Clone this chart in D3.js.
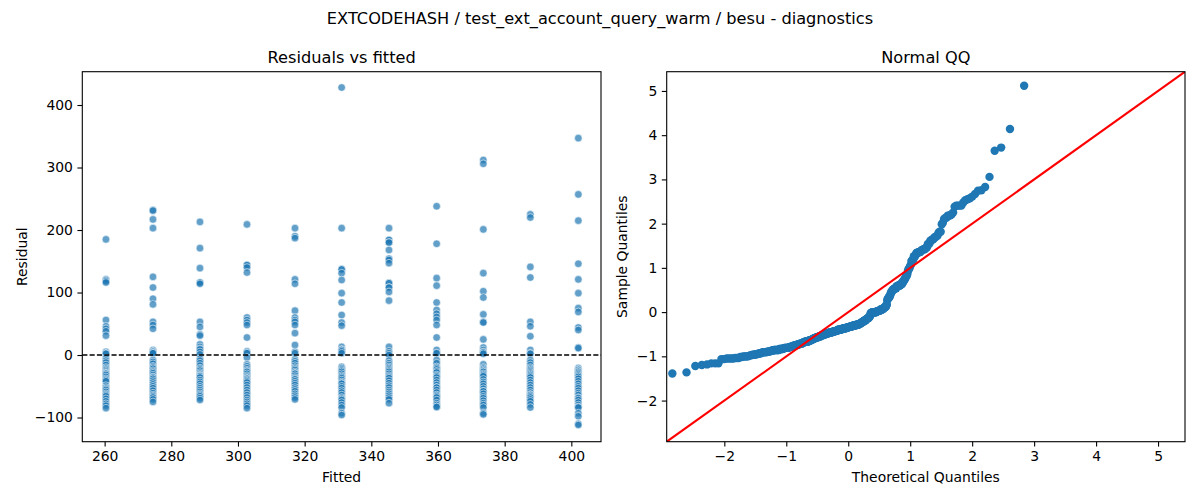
<!DOCTYPE html>
<html>
<head>
<meta charset="utf-8">
<script src="https://cdn.jsdelivr.net/npm/d3@7"></script>
<style>
  body { margin: 0; background: #fff; }
  svg { display: block; font-family: "DejaVu Sans", sans-serif; }
</style>
</head>
<body>
<svg id="chart" width="1200" height="500"></svg>
<script>
// ---------------- data ----------------
const fittedValues = [260.4, 274.5, 288.6, 302.7, 317.1, 331.1, 345.3, 359.6, 373.6, 387.7, 402.1];
const residualsByFitted = [
  [185, 121, 120, 118, 116, 56, 46, 42, 38, 31, 5, 3, 2, -5, -9, -12, -16, -20, -22, -24, -26, -28, -29, -30, -32, -35, -38, -40, -42, -49, -52, -54, -56, -59, -62, -64, -66, -70, -74, -78, -81, -85],
  [232, 231, 217, 203, 125, 108, 90, 81, 53, 48, 42, 8, 6, 5, 3, 3, -8, -11, -14, -18, -20, -22, -25, -27, -29, -32, -35, -36, -38, -41, -44, -47, -50, -53, -57, -61, -64, -66, -68, -71, -75],
  [213, 171, 139, 116, 116, 114, 53, 45, 33, 31, 17, 13, 10, 9, 5, 1, -6, -9, -13, -17, -21, -23, -25, -28, -30, -32, -33, -34, -36, -40, -43, -46, -50, -53, -56, -59, -62, -64, -66, -69, -72],
  [209, 144, 144, 140, 132, 60, 56, 52, 48, 28, 6, 4, 3, -4, -15, -18, -21, -24, -26, -27, -30, -33, -35, -37, -38, -40, -42, -44, -48, -52, -56, -60, -64, -68, -72, -75, -78, -81, -85],
  [203, 190, 187, 121, 114, 71, 60, 56, 53, 48, 35, 16, 5, 3, -7, -10, -13, -17, -20, -22, -24, -27, -29, -30, -33, -36, -38, -39, -42, -45, -48, -52, -55, -58, -62, -65, -68, -71],
  [428, 203, 137, 137, 131, 120, 99, 84, 64, 52, 47, 13, 9, 8, 6, 3, -19, -21, -23, -25, -27, -30, -33, -35, -37, -40, -43, -45, -46, -50, -53, -57, -60, -64, -68, -70, -72, -76, -80, -84, -93, -96],
  [203, 184, 184, 180, 180, 168, 154, 154, 152, 147, 115, 115, 108, 108, 101, 87, 13, 6, 3, 0, -9, -13, -16, -19, -21, -23, -25, -27, -30, -33, -35, -37, -41, -45, -49, -52, -56, -59, -62, -65, -68, -71, -77],
  [238, 178, 123, 111, 84, 72, 66, 61, 56, 48, 28, 8, 3, 3, -8, -13, -19, -21, -23, -26, -28, -32, -34, -36, -40, -44, -48, -52, -52, -56, -60, -64, -66, -68, -72, -77, -80, -83, -83],
  [312, 306, 201, 131, 102, 92, 65, 53, 52, 25, 12, 8, 5, 4, 2, -15, -20, -22, -24, -26, -27, -30, -32, -34, -39, -43, -46, -50, -54, -58, -58, -62, -66, -69, -73, -77, -80, -84, -93, -95],
  [225, 220, 141, 124, 53, 46, 30, 8, 3, 2, -8, -12, -16, -20, -22, -24, -26, -28, -30, -32, -34, -36, -40, -44, -48, -52, -56, -60, -63, -64, -66, -68, -71, -74, -79, -84],
  [347, 257, 215, 146, 121, 99, 75, 69, 44, 40, 12, 11, -21, -23, -24, -26, -27, -29, -31, -33, -35, -38, -42, -46, -50, -53, -57, -61, -64, -68, -69, -72, -76, -80, -83, -84, -93, -98, -110, -112]
];
const fittedTicks = [260, 280, 300, 320, 340, 360, 380, 400];
const residualTicks = [-100, 0, 100, 200, 300, 400];
const qqTicks = [-2, -1, 0, 1, 2, 3, 4, 5];

const titleText = "EXTCODEHASH / test_ext_account_query_warm / besu - diagnostics";

// ---------------- helpers ----------------
// inverse standard normal CDF (Acklam)
function normPpf(p) {
  const a = [-3.969683028665376e+01, 2.209460984245205e+02, -2.759285104469687e+02, 1.383577518672690e+02, -3.066479806614716e+01, 2.506628277459239e+00];
  const b = [-5.447609879822406e+01, 1.615858368580409e+02, -1.556989798598866e+02, 6.680131188771972e+01, -1.328068155288572e+01];
  const c = [-7.784894002430293e-03, -3.223964580411365e-01, -2.400758277161838e+00, -2.549732539343734e+00, 4.374664141464968e+00, 2.938163982698783e+00];
  const d = [7.784695709041462e-03, 3.224671290700398e-01, 2.445134137142996e+00, 3.754408661907416e+00];
  const pl = 0.02425, ph = 1 - pl;
  let q, r;
  if (p < pl) {
    q = Math.sqrt(-2 * Math.log(p));
    return (((((c[0]*q+c[1])*q+c[2])*q+c[3])*q+c[4])*q+c[5]) / ((((d[0]*q+d[1])*q+d[2])*q+d[3])*q+1);
  } else if (p <= ph) {
    q = p - 0.5; r = q * q;
    return (((((a[0]*r+a[1])*r+a[2])*r+a[3])*r+a[4])*r+a[5])*q / (((((b[0]*r+b[1])*r+b[2])*r+b[3])*r+b[4])*r+1);
  } else {
    q = Math.sqrt(-2 * Math.log(1 - p));
    return -(((((c[0]*q+c[1])*q+c[2])*q+c[3])*q+c[4])*q+c[5]) / ((((d[0]*q+d[1])*q+d[2])*q+d[3])*q+1);
  }
}

const points = [];
fittedValues.forEach((f, i) => residualsByFitted[i].forEach(r => points.push({ fitted: f, resid: r })));

const allResid = points.map(p => p.resid);
const nObs = allResid.length;
const meanR = d3.mean(allResid);
const sdR = Math.sqrt(d3.mean(allResid, v => (v - meanR) * (v - meanR)));
const sortedR = allResid.slice().sort((a, b) => a - b);
const qq = sortedR.map((v, i) => ({ theo: normPpf((i + 1) / (nObs + 1)), samp: (v - meanR) / sdR }));

// ---------------- layout ----------------
const svg = d3.select("#chart");
const blue = "#1f77b4";
const axTop = 71.7, axBottom = 441.7;
const L = { x0: 82.3, x1: 601 };
const R = { x0: 666.7, x1: 1185 };

svg.append("text").attr("x", 600).attr("y", 24).attr("text-anchor", "middle")
  .attr("font-size", 16.2).attr("fill", "#000").text(titleText);

function axesTitle(g, x0, x1, title) {
  g.append("text").attr("x", (x0 + x1) / 2).attr("y", axTop - 9).attr("text-anchor", "middle")
    .attr("font-size", 16.2).attr("fill", "#000").text(title);
}

function drawAxes(g, xs, ys, xt, yt, x0, x1, xlabel, ylabel, ylabelX) {
  const fmt = d3.format("");
  const xa = g.append("g").attr("transform", `translate(0,${axBottom})`)
    .call(d3.axisBottom(xs).tickValues(xt).tickSize(4.9).tickPadding(4.5).tickFormat(d => fmt(d)));
  const ya = g.append("g").attr("transform", `translate(${x0},0)`)
    .call(d3.axisLeft(ys).tickValues(yt).tickSize(4.9).tickPadding(4.5).tickFormat(d => fmt(d)));
  [xa, ya].forEach(a => {
    a.select(".domain").remove();
    a.selectAll(".tick line").attr("stroke", "#000").attr("stroke-width", 1.1);
    a.selectAll(".tick text").attr("font-size", 13.9).attr("fill", "#000")
      .attr("font-family", "DejaVu Sans, sans-serif");
  });
  g.append("rect").attr("x", x0).attr("y", axTop).attr("width", x1 - x0).attr("height", axBottom - axTop)
    .attr("fill", "none").attr("stroke", "#000").attr("stroke-width", 1.1);
  g.append("text").attr("x", (x0 + x1) / 2).attr("y", 482).attr("text-anchor", "middle")
    .attr("font-size", 13.9).attr("fill", "#000").text(xlabel);
  g.append("text").attr("transform", `translate(${ylabelX},${(axTop + axBottom) / 2}) rotate(-90)`)
    .attr("text-anchor", "middle").attr("font-size", 13.9).attr("fill", "#000").text(ylabel);
}

svg.append("clipPath").attr("id", "clipL").append("rect")
  .attr("x", L.x0).attr("y", axTop).attr("width", L.x1 - L.x0).attr("height", axBottom - axTop);
svg.append("clipPath").attr("id", "clipR").append("rect")
  .attr("x", R.x0).attr("y", axTop).attr("width", R.x1 - R.x0).attr("height", axBottom - axTop);

// ---------- left: residuals vs fitted ----------
const gl = svg.append("g");
const xL = d3.scaleLinear().domain([253.3, 408.9]).range([L.x0, L.x1]);
const yL = d3.scaleLinear().domain([-138.7, 453.3]).range([axBottom, axTop]);
const plotL = gl.append("g").attr("clip-path", "url(#clipL)");
plotL.selectAll("circle").data(points).join("circle")
  .attr("cx", d => xL(d.fitted)).attr("cy", d => yL(d.resid)).attr("r", 3.8)
  .attr("fill", blue).attr("fill-opacity", 0.7)
  .attr("stroke", "#fff").attr("stroke-opacity", 0.7).attr("stroke-width", 0.8);
plotL.append("line").attr("x1", L.x0).attr("x2", L.x1).attr("y1", yL(0)).attr("y2", yL(0))
  .attr("stroke", "#000").attr("stroke-width", 1.3).attr("stroke-dasharray", "5.1,2.2");
axesTitle(gl, L.x0, L.x1, "Residuals vs fitted");
drawAxes(gl, xL, yL, fittedTicks, residualTicks, L.x0, L.x1, "Fitted", "Residual", 27);

// ---------- right: normal QQ ----------
const gr = svg.append("g");
const qqDomain = [-2.93, 5.435];
const xR = d3.scaleLinear().domain(qqDomain).range([R.x0, R.x1]);
const yR = d3.scaleLinear().domain(qqDomain).range([axBottom, axTop]);
const plotR = gr.append("g").attr("clip-path", "url(#clipR)");
plotR.selectAll("circle").data(qq).join("circle")
  .attr("cx", d => xR(d.theo)).attr("cy", d => yR(d.samp)).attr("r", 4.2)
  .attr("fill", blue);
plotR.append("line").attr("x1", xR(qqDomain[0])).attr("y1", yR(qqDomain[0]))
  .attr("x2", xR(qqDomain[1])).attr("y2", yR(qqDomain[1]))
  .attr("stroke", "#ff0000").attr("stroke-width", 2.1);
axesTitle(gr, R.x0, R.x1, "Normal QQ");
drawAxes(gr, xR, yR, qqTicks, qqTicks, R.x0, R.x1, "Theoretical Quantiles", "Sample Quantiles", 627);
</script>
</body>
</html>
